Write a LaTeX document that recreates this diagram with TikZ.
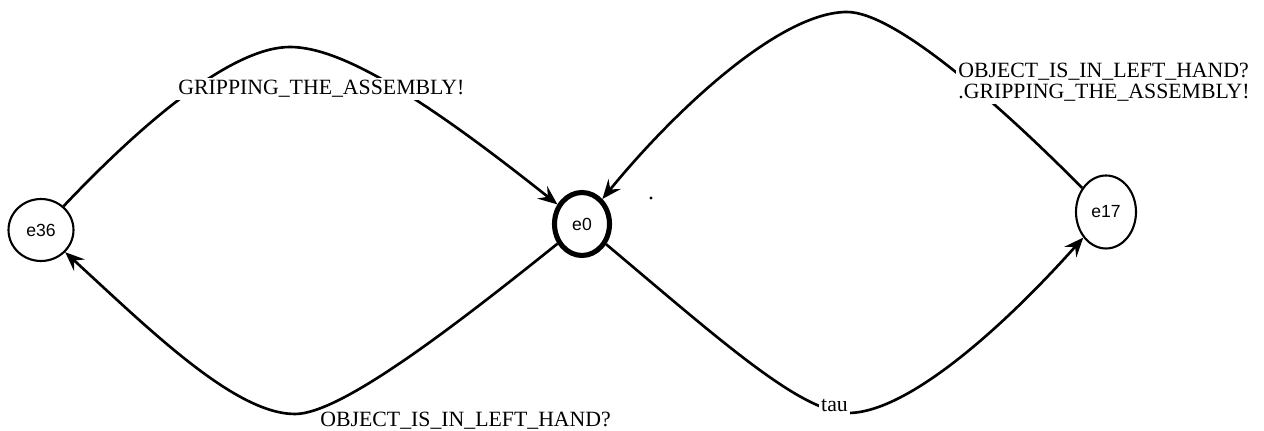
\documentclass[tikz,border=0pt]{standalone}
\usepackage{fontspec}
\setmainfont{Liberation Serif}
\newfontfamily\statefont{Liberation Sans}
\usetikzlibrary{arrows.meta,shapes.geometric}
\begin{document}
\begin{tikzpicture}[x=0.02cm,y=-0.02cm,
  state/.style={ellipse,draw,line width=1.2pt,inner sep=0pt,font=\statefont\fontsize{10}{12}\selectfont},
  edge/.style={line width=1.5pt,-{Stealth[length=11pt,width=9pt,inset=4pt]}},
  lbl/.style={font=\fontsize{12.4}{11.6}\selectfont,inner sep=1.5pt},
  wlbl/.style={lbl,fill=white}]
\useasboundingbox (0,0) rectangle (1264,431);
\node[state,minimum width=1.3cm,minimum height=1.24cm] (e36) at (41,230) {e36};
\node[state,line width=2.9pt,minimum width=1.1cm,minimum height=1.26cm] (e0) at (582,224) {e0};
\node[state,minimum width=1.2cm,minimum height=1.46cm] (e17) at (1106,212) {e17};
\coordinate (p1) at (290,47);
\coordinate (p2) at (295,414);
\coordinate (p3) at (848,413);
\coordinate (p4) at (847,12);
\draw[edge] (e36) .. controls (150,115) and (235,47) .. (p1) .. controls (340,47) and (420,95) .. (e0);
\draw[edge] (e0) .. controls (450,330) and (340,414) .. (p2) .. controls (235,414) and (150,330) .. (e36);
\draw[edge] (e0) .. controls (720,340) and (800,412) .. (p3) .. controls (910,413) and (1010,320) .. (e17);
\draw[edge] (e17) .. controls (1000,105) and (895,12) .. (p4) .. controls (780,12) and (675,110) .. (e0);
\fill (651,198) circle (0.9pt);
\node[wlbl,anchor=base west] (l1) at (175.4,95) {GRIPPING\_THE\_ASSEMBLY!};
\node[lbl,anchor=base west] (l2) at (317.4,427) {OBJECT\_IS\_IN\_LEFT\_HAND?};
\node[wlbl,anchor=base] (l3) at (834.5,412) {tau};
\node[wlbl,anchor=north west,align=left] (l4) at (955.4,60.5) {OBJECT\_IS\_IN\_LEFT\_HAND?\\.GRIPPING\_THE\_ASSEMBLY!};
\end{tikzpicture}
\end{document}
